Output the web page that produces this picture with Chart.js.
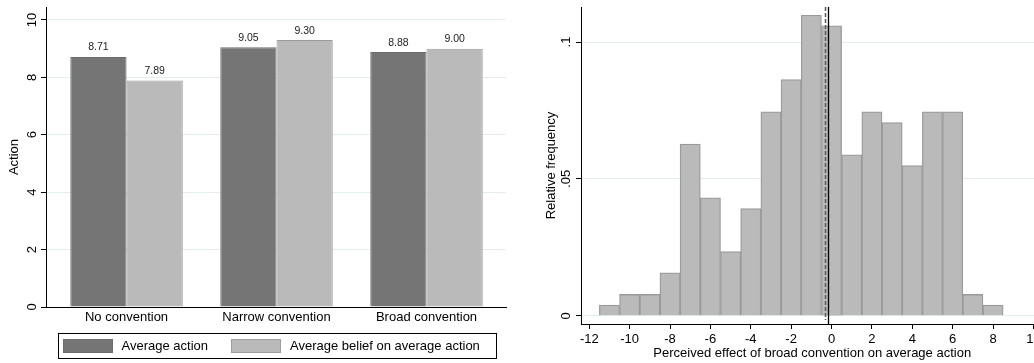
<!DOCTYPE html>
<html>
<head>
<meta charset="utf-8">
<script src="https://cdn.jsdelivr.net/npm/chart.js@4.4.1/dist/chart.umd.min.js"></script>
<style>
  html, body { margin: 0; padding: 0; background: #fff; overflow: hidden; width: 1034px; height: 363px; }
  #actionPanel { position: absolute; left: 0; top: 0; }
  #effectPanel { position: absolute; left: 520px; top: 0; }
</style>
</head>
<body>
<canvas id="actionPanel" width="520" height="363"></canvas>
<canvas id="effectPanel" width="540" height="363"></canvas>
<script>
// ---- Left panel: average action vs. belief by treatment ----
const conventions = ['No convention', 'Narrow convention', 'Broad convention'];
const averageAction = [8.71, 9.05, 8.88];
const averageBelief = [7.89, 9.30, 9.00];
const actionTicks = [0, 2, 4, 6, 8, 10];
const actionTickLabels = ['0', '2', '4', '6', '8', '10'];

// ---- Right panel: histogram of perceived effects ----
const effectBins = [-11, -10, -9, -8, -7, -6, -5, -4, -3, -2, -1, 0, 1, 2, 3, 4, 5, 6, 7, 8];
const relativeFrequency = [0.0039, 0.0078, 0.0078, 0.0157, 0.0627, 0.0431, 0.0235, 0.0392, 0.0745, 0.0863,
                           0.1098, 0.1059, 0.0588, 0.0745, 0.0706, 0.0549, 0.0745, 0.0745, 0.0078, 0.0039];
const effectTicks = [-12, -10, -8, -6, -4, -2, 0, 2, 4, 6, 8, 10];
const frequencyTicks = [0, 0.05, 0.1];
const frequencyTickLabels = ['0', '.05', '.1'];
const solidMarkerAt = -0.17;
const dashedMarkerAt = -0.32;

const FONT = '"Liberation Sans", Arial, Helvetica, sans-serif';
Chart.defaults.font.family = FONT;
Chart.defaults.font.size = 13;
Chart.defaults.color = '#000';

const GRID = '#e4edef';
const DARK = '#757575';
const LIGHT = '#bababa';

// y tick labels written vertically, as in Stata graphs
const verticalTickLabels = {
  id: 'verticalTickLabels',
  afterDraw(chart, args, opts) {
    const y = chart.scales.y;
    const ctx = chart.ctx;
    ctx.save();
    ctx.font = '13px ' + FONT;
    ctx.fillStyle = '#000';
    ctx.textAlign = 'center';
    ctx.textBaseline = 'middle';
    y.ticks.forEach((t, i) => {
      ctx.save();
      ctx.translate(opts.x, y.getPixelForValue(t.value));
      ctx.rotate(-Math.PI / 2);
      ctx.fillText(opts.labels[i], 0, 1);
      ctx.restore();
    });
    ctx.restore();
  }
};

// value printed above each bar
const barValueLabels = {
  id: 'barValueLabels',
  afterDatasetsDraw(chart) {
    const ctx = chart.ctx;
    ctx.save();
    ctx.font = '10.5px ' + FONT;
    ctx.fillStyle = '#222';
    ctx.textAlign = 'center';
    ctx.textBaseline = 'alphabetic';
    chart.data.datasets.forEach((ds, di) => {
      chart.getDatasetMeta(di).data.forEach((el, i) => {
        ctx.fillText(ds.data[i].y.toFixed(2), el.x, el.y - 6.5);
      });
    });
    ctx.restore();
  }
};

// framed legend below the bar chart
const framedLegend = {
  id: 'framedLegend',
  afterDraw(chart) {
    const ctx = chart.ctx;
    const ds = chart.data.datasets;
    ctx.save();
    ctx.strokeStyle = '#000';
    ctx.lineWidth = 1;
    ctx.strokeRect(58.5, 333.5, 438, 25);
    const items = [{ x: 63, tx: 121.5 }, { x: 231, tx: 290 }];
    ctx.font = '13px ' + FONT;
    ctx.textBaseline = 'middle';
    ctx.textAlign = 'left';
    items.forEach((it, i) => {
      ctx.fillStyle = ds[i].backgroundColor;
      ctx.fillRect(it.x, 339, 50, 14);
      ctx.strokeStyle = ds[i].borderColor;
      ctx.strokeRect(it.x + 0.5, 339.5, 49, 13);
      ctx.fillStyle = '#000';
      ctx.fillText(ds[i].label, it.tx, 346.5);
    });
    ctx.restore();
  }
};

new Chart(document.getElementById('actionPanel'), {
  type: 'bar',
  data: {
    datasets: [
      { label: 'Average action', data: averageAction.map((v, i) => ({ x: i, y: v })),
        backgroundColor: DARK, borderColor: '#6c6c6c', borderWidth: 1 },
      { label: 'Average belief on average action', data: averageBelief.map((v, i) => ({ x: i, y: v })),
        backgroundColor: LIGHT, borderColor: '#9d9d9d', borderWidth: 1 }
    ]
  },
  options: {
    responsive: false,
    animation: false,
    devicePixelRatio: 1,
    datasets: { bar: { categoryPercentage: 0.75, barPercentage: 1 } },
    layout: { padding: { top: 7, left: 0, right: 14, bottom: 35 } },
    plugins: {
      legend: { display: false },
      tooltip: { enabled: false },
      verticalTickLabels: { x: 31, labels: actionTickLabels }
    },
    scales: {
      x: {
        type: 'linear', min: -0.537, max: 2.53, offset: false,
        afterBuildTicks: s => { s.ticks = conventions.map((_, i) => ({ value: i })); },
        afterFit: s => { s.height = 21; },
        grid: { display: false, drawTicks: false, offset: false },
        border: { color: '#000', width: 1 },
        ticks: { callback: v => conventions[v], padding: 3, maxRotation: 0, autoSkip: false, maxTicksLimit: 50 }
      },
      y: {
        min: 0, max: 10.45,
        afterBuildTicks: s => { s.ticks = actionTicks.map(v => ({ value: v })); },
        afterFit: s => { s.width = 46; },
        grid: { color: GRID, tickColor: '#000', tickLength: 5, lineWidth: 1 },
        border: { color: '#000', width: 1 },
        ticks: { display: false },
        title: { display: true, text: 'Action', padding: { top: 7, bottom: 0 } }
      }
    }
  },
  plugins: [verticalTickLabels, barValueLabels, framedLegend]
});

// vertical reference lines in the histogram
const effectMarkers = {
  id: 'effectMarkers',
  afterDatasetsDraw(chart) {
    const x = chart.scales.x;
    const { top, bottom } = chart.chartArea;
    const ctx = chart.ctx;
    ctx.save();
    ctx.strokeStyle = '#5a5a5a';
    ctx.lineWidth = 1.5;
    ctx.setLineDash([4, 2]);
    const xd = Math.round(x.getPixelForValue(dashedMarkerAt)) + 0.5;
    ctx.beginPath(); ctx.moveTo(xd, top); ctx.lineTo(xd, bottom - 4); ctx.stroke();
    ctx.setLineDash([]);
    ctx.strokeStyle = '#000';
    ctx.lineWidth = 1.3;
    const xs = Math.round(x.getPixelForValue(solidMarkerAt)) + 0.5;
    ctx.beginPath(); ctx.moveTo(xs, top); ctx.lineTo(xs, bottom); ctx.stroke();
    ctx.restore();
  }
};

new Chart(document.getElementById('effectPanel'), {
  type: 'bar',
  data: {
    datasets: [{
      label: 'Relative frequency',
      data: effectBins.map((b, i) => ({ x: b, y: relativeFrequency[i] })),
      backgroundColor: LIGHT, borderColor: '#9a9a9a', borderWidth: 1.3,
      categoryPercentage: 1, barPercentage: 1
    }]
  },
  options: {
    responsive: false,
    animation: false,
    devicePixelRatio: 1,
    layout: { padding: { top: 7, left: 0, right: 16.5, bottom: 0 } },
    plugins: {
      legend: { display: false },
      tooltip: { enabled: false },
      verticalTickLabels: { x: 45, labels: frequencyTickLabels }
    },
    scales: {
      x: {
        type: 'linear', min: -12.41, max: 10.5, offset: false,
        afterBuildTicks: s => { s.ticks = effectTicks.map(v => ({ value: v })); },
        afterFit: s => { s.height = 39; },
        grid: { drawOnChartArea: false, tickColor: '#000', tickLength: 5, offset: false },
        border: { color: '#000', width: 1 },
        ticks: { callback: v => String(v), padding: 3, maxRotation: 0, autoSkip: false, maxTicksLimit: 50 },
        title: { display: true, text: 'Perceived effect of broad convention on average action',
                 padding: { top: 0, bottom: 2 } }
      },
      y: {
        min: -0.003, max: 0.1128,
        afterBuildTicks: s => { s.ticks = frequencyTicks.map(v => ({ value: v })); },
        afterFit: s => { s.width = 61; },
        grid: { color: GRID, tickColor: '#000', tickLength: 5, lineWidth: 1 },
        border: { color: '#000', width: 1 },
        ticks: { display: false },
        title: { display: true, text: 'Relative frequency', padding: { top: 24, bottom: 0 } }
      }
    }
  },
  plugins: [verticalTickLabels, effectMarkers]
});
</script>
</body>
</html>
